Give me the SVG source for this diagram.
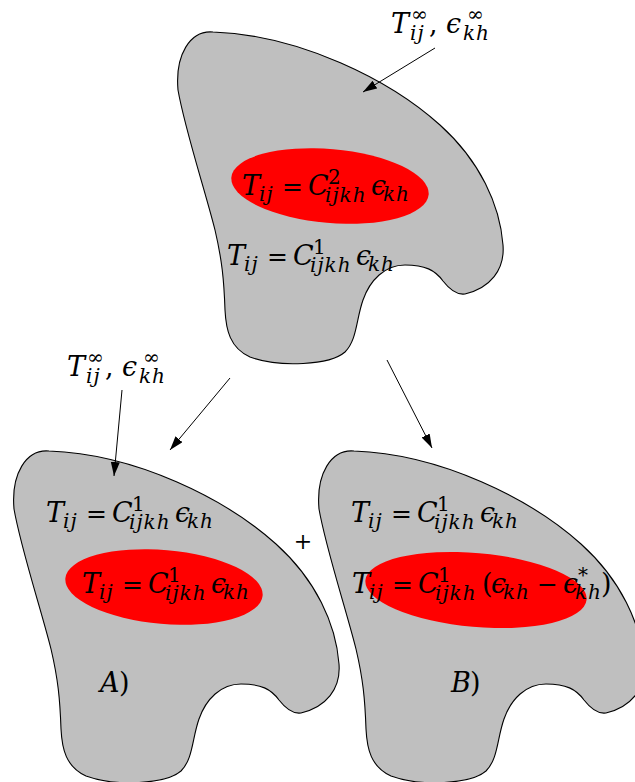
<svg xmlns="http://www.w3.org/2000/svg" xmlns:xlink="http://www.w3.org/1999/xlink" width="635" height="782" viewBox="0 0 635 782">
<style>
.blob{fill:#bfbfbf;stroke:#000;stroke-width:1.1}
.inc{fill:#ff0000;stroke:none}
text{font-family:'DejaVu Serif',serif;font-size:27px;fill:#000}
.i{font-style:italic}
.s{font-size:20px;letter-spacing:1px}
.p{font-size:20px}
.e{font-size:25px}
.cn{stroke:#000;stroke-width:1;fill:none;marker-end:url(#ah)}
</style>
<defs>
<marker id="ah" markerUnits="userSpaceOnUse" markerWidth="15" markerHeight="10" refX="14" refY="4.5" orient="auto">
<path d="M0,0 L14,4.5 L0,9 z" fill="#000"/>
</marker>
<path id="blob" d="M213,32 C300,35 390,80 440,125 C480,161 500,205 503,245 C505,270 490,288 465,294 C458,295 450,290 443,281 C435,270 425,265 405,265 C385,265 370,280 363,300 C356,320 357,340 345,352 C330,365 280,368 250,357 C230,348 226,330 225,310 C224,280 222,260 215,230 C205,190 185,130 178,90 C175,55 190,30 213,32 Z"/>
</defs>

<g id="body-top">
<use xlink:href="#blob" class="blob"/>
<ellipse class="inc" cx="330" cy="186" rx="99" ry="37" transform="rotate(5 330 186)"/>
<text><tspan class="i" x="242" y="195">T</tspan><tspan class="i s" x="259" y="201">ij</tspan><tspan class="e" x="282" y="195">=</tspan><tspan class="i" x="308" y="195">C</tspan><tspan class="p" x="328" y="184">2</tspan><tspan class="i s" x="325" y="202">ijkh</tspan><tspan class="i" x="371" y="195">ϵ</tspan><tspan class="i s" x="383" y="201">kh</tspan></text>
<text><tspan class="i" x="227" y="265">T</tspan><tspan class="i s" x="244" y="271">ij</tspan><tspan class="e" x="267" y="265">=</tspan><tspan class="i" x="293" y="265">C</tspan><tspan class="p" x="313" y="254">1</tspan><tspan class="i s" x="310" y="272">ijkh</tspan><tspan class="i" x="356" y="265">ϵ</tspan><tspan class="i s" x="368" y="271">kh</tspan></text>
</g>

<g id="body-A">
<use xlink:href="#blob" class="blob" transform="translate(-164 419)"/>
<ellipse class="inc" cx="164" cy="587" rx="99" ry="37" transform="rotate(5 164 587)"/>
<text><tspan class="i" x="46" y="522">T</tspan><tspan class="i s" x="63" y="528">ij</tspan><tspan class="e" x="86" y="522">=</tspan><tspan class="i" x="112" y="522">C</tspan><tspan class="p" x="132" y="511">1</tspan><tspan class="i s" x="129" y="529">ijkh</tspan><tspan class="i" x="175" y="522">ϵ</tspan><tspan class="i s" x="187" y="528">kh</tspan></text>
<text><tspan class="i" x="82" y="593">T</tspan><tspan class="i s" x="99" y="599">ij</tspan><tspan class="e" x="122" y="593">=</tspan><tspan class="i" x="148" y="593">C</tspan><tspan class="p" x="168" y="582">1</tspan><tspan class="i s" x="165" y="600">ijkh</tspan><tspan class="i" x="211" y="593">ϵ</tspan><tspan class="i s" x="223" y="599">kh</tspan></text>
<text><tspan class="i" x="100" y="692">A</tspan><tspan x="119" y="692">)</tspan></text>
</g>

<g id="body-B">
<use xlink:href="#blob" class="blob" transform="translate(141 419)"/>
<ellipse class="inc" cx="476" cy="590" rx="111" ry="37" transform="rotate(5 476 590)"/>
<text><tspan class="i" x="351" y="522">T</tspan><tspan class="i s" x="368" y="528">ij</tspan><tspan class="e" x="391" y="522">=</tspan><tspan class="i" x="417" y="522">C</tspan><tspan class="p" x="437" y="511">1</tspan><tspan class="i s" x="434" y="529">ijkh</tspan><tspan class="i" x="480" y="522">ϵ</tspan><tspan class="i s" x="492" y="528">kh</tspan></text>
<text><tspan class="i" x="352" y="593">T</tspan><tspan class="i s" x="369" y="599">ij</tspan><tspan class="e" x="392" y="593">=</tspan><tspan class="i" x="418" y="593">C</tspan><tspan class="p" x="438" y="582">1</tspan><tspan class="i s" x="435" y="600">ijkh</tspan><tspan x="482" y="593">(</tspan><tspan class="i" x="491" y="593">ϵ</tspan><tspan class="i s" x="503" y="599">kh</tspan><tspan class="e" x="537" y="593">−</tspan><tspan class="i" x="563" y="593">ϵ</tspan><tspan class="p" x="578" y="582">*</tspan><tspan class="i s" x="575" y="599">kh</tspan><tspan x="601" y="593">)</tspan></text>
<text><tspan class="i" x="451" y="692">B</tspan><tspan x="470" y="692">)</tspan></text>
</g>

<g id="load-top">
<text><tspan class="i" x="391" y="33">T</tspan><tspan class="p" x="411" y="21">∞</tspan><tspan class="i s" x="410" y="40">ij</tspan><tspan x="429" y="33">,</tspan><tspan class="i" x="446" y="33">ϵ</tspan><tspan class="p" x="467" y="21">∞</tspan><tspan class="i s" x="463" y="40">kh</tspan></text>
</g>

<g id="load-A">
<text><tspan class="i" x="67" y="376">T</tspan><tspan class="p" x="87" y="364">∞</tspan><tspan class="i s" x="86" y="383">ij</tspan><tspan x="105" y="376">,</tspan><tspan class="i" x="122" y="376">ϵ</tspan><tspan class="p" x="143" y="364">∞</tspan><tspan class="i s" x="139" y="383">kh</tspan></text>
</g>

<g id="plus">
<text x="303" y="549" text-anchor="middle" style="font-size:22px">+</text>
</g>

<g id="connectors">
<line class="cn" x1="435" y1="48" x2="363" y2="92"/>
<line class="cn" x1="122" y1="390" x2="114" y2="476"/>
<line class="cn" x1="230" y1="378" x2="170" y2="450"/>
<line class="cn" x1="387" y1="360" x2="432" y2="448"/>
</g>
</svg>
